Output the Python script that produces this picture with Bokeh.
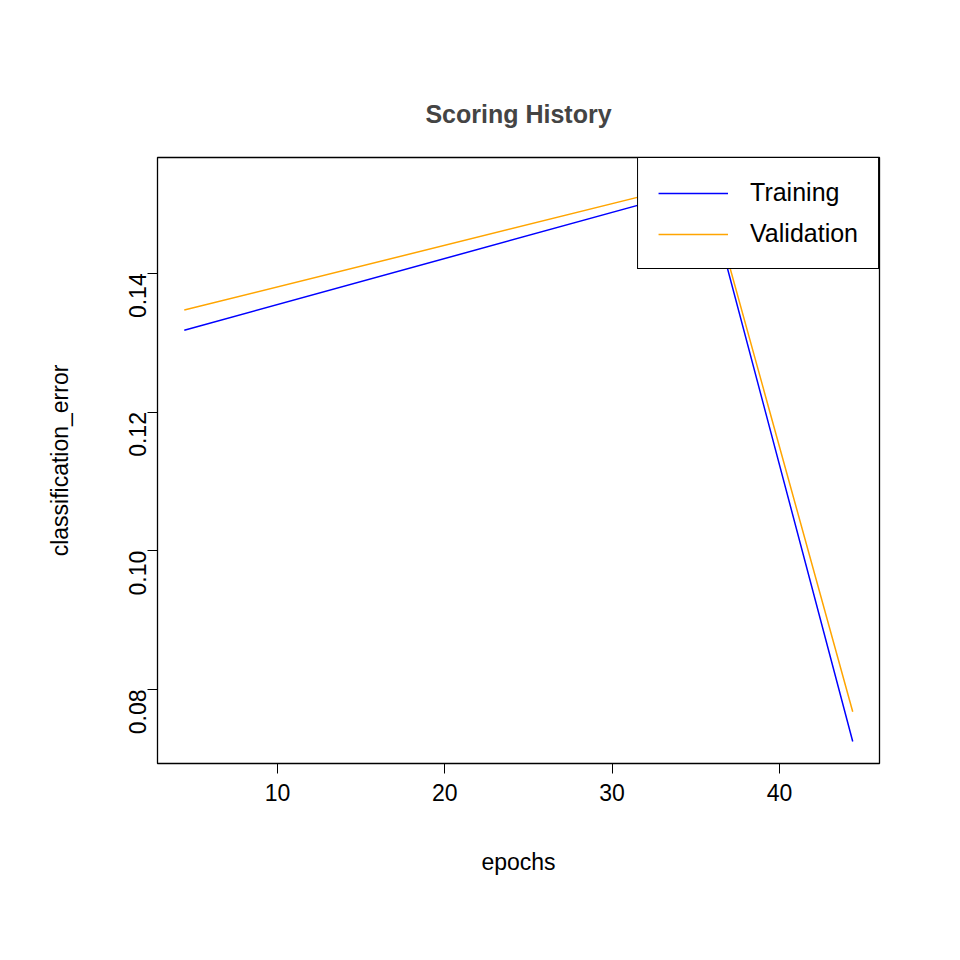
import math
from bokeh.plotting import figure
from bokeh.models import Range1d, FixedTicker, Legend, LegendItem, NumeralTickFormatter
from bokeh.embed import file_html
from bokeh.resources import INLINE

epochs = [4.43, 35.6, 44.38]
training = [0.1318, 0.1525, 0.0725]
validation = [0.1347, 0.1534, 0.0768]
x_ticks = [10, 20, 30, 40]
y_ticks = [0.08, 0.10, 0.12, 0.14]

FONT = "Liberation Sans"

p = figure(width=952, height=952, output_backend="svg", toolbar_location=None,
           x_range=Range1d(2.83, 45.98), y_range=Range1d(0.06933, 0.1567),
           min_border_left=157, min_border_right=73,
           min_border_top=157, min_border_bottom=189,
           title="Scoring History")
p.title.align = "center"
p.title.text_font = FONT
p.title.text_font_size = "25px"
p.title.text_font_style = "bold"
p.title.standoff = 60
p.grid.visible = False
p.outline_line_color = "black"
p.outline_line_width = 1.3

r1 = p.line(epochs, training, color="blue", line_width=1.5)
r2 = p.line(epochs, validation, color="orange", line_width=1.5)

p.xaxis.ticker = FixedTicker(ticks=x_ticks)
p.yaxis.ticker = FixedTicker(ticks=y_ticks)
p.yaxis.formatter = NumeralTickFormatter(format="0.00")
p.yaxis.major_label_orientation = math.pi / 2
for ax in (p.xaxis[0], p.yaxis[0]):
    ax.major_tick_out = 10
    ax.major_tick_in = 0
    ax.minor_tick_out = 0
    ax.minor_tick_in = 0
    ax.axis_line_color = None
    ax.major_label_text_font = FONT
    ax.major_label_text_font_size = "23px"
    ax.major_label_text_color = "black"
    ax.axis_label_text_font = FONT
    ax.axis_label_text_font_size = "23px"
    ax.axis_label_text_font_style = "normal"
    ax.axis_label_text_color = "black"
    ax.major_label_standoff = 10
p.xaxis.axis_label = "epochs"
p.xaxis.axis_label_standoff = 45
p.yaxis.axis_label = "classification_error"
p.yaxis.axis_label_standoff = 45

legend = Legend(items=[LegendItem(label="Training", renderers=[r1]),
                       LegendItem(label="Validation", renderers=[r2])],
                location="top_right", margin=0, padding=20, spacing=12,
                border_line_color="black", border_line_width=1.3,
                border_line_alpha=1.0,
                background_fill_alpha=1.0, label_text_font=FONT,
                label_text_font_size="25px", label_text_color="black",
                glyph_width=70, label_standoff=22)
p.add_layout(legend)

open("out.html", "w").write(file_html(p, INLINE))
